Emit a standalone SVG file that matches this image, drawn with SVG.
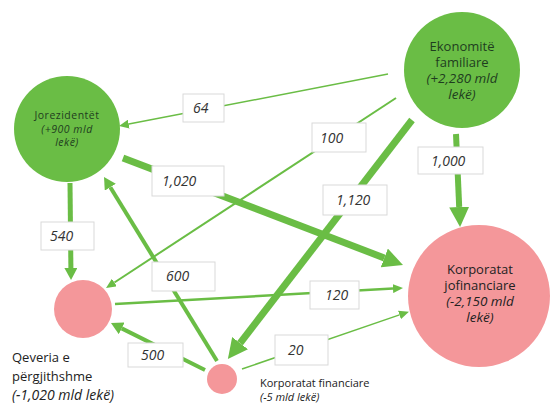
<svg xmlns="http://www.w3.org/2000/svg" width="551" height="406" viewBox="0 0 551 406">
<defs>
<style>
.ln{stroke:#6abd45;fill:none;stroke-linecap:butt}
.g{fill:#6abd45}
.p{fill:#f4979a}
.box{fill:#fff;stroke:#d9d9d9;stroke-width:1}
.lbl{font-family:"Open Sans",sans-serif;font-style:italic;font-size:14px;fill:#333}
.t{font-family:"Open Sans",sans-serif;font-size:13px;text-anchor:middle}
.tg{fill:#1f3d1f}
.tp{fill:#222}
.it{font-style:italic;font-size:13.5px}
.sm{font-size:10.5px;letter-spacing:0.5px}
.fs{font-size:11px;text-anchor:start}
.st{text-anchor:start}
</style>
<marker id="ms" markerUnits="userSpaceOnUse" markerWidth="10" markerHeight="9" refX="0" refY="4.5" orient="auto" viewBox="0 0 10 9"><path d="M0,0 L10,4.5 L0,9 z" fill="#6abd45"/></marker>
<marker id="mm" markerUnits="userSpaceOnUse" markerWidth="12" markerHeight="13" refX="0" refY="6.5" orient="auto" viewBox="0 0 12 13"><path d="M0,0 L12,6.5 L0,13 z" fill="#6abd45"/></marker>
<marker id="ml" markerUnits="userSpaceOnUse" markerWidth="20" markerHeight="20" refX="0" refY="10" orient="auto" viewBox="0 0 20 20"><path d="M0,0 L20,10 L0,20 z" fill="#6abd45"/></marker>
</defs>
<rect width="551" height="406" fill="#fff"/>
<g id="connectors">
<line class="ln" x1="388" y1="74" x2="128.8" y2="124.1" stroke-width="1.5" marker-end="url(#ms)"/>
<line class="ln" x1="396" y1="98" x2="114.4" y2="282.5" stroke-width="2" marker-end="url(#ms)"/>
<line class="ln" x1="412" y1="120" x2="240.1" y2="343.1" stroke-width="7" marker-end="url(#ml)"/>
<line class="ln" x1="456" y1="134" x2="459.2" y2="207" stroke-width="6" marker-end="url(#ml)"/>
<line class="ln" x1="123" y1="158" x2="384.3" y2="257.9" stroke-width="7" marker-end="url(#ml)"/>
<line class="ln" x1="70" y1="183" x2="70.9" y2="268" stroke-width="5" marker-end="url(#mm)"/>
<line class="ln" x1="217" y1="361" x2="110.3" y2="187.2" stroke-width="4" marker-end="url(#mm)"/>
<line class="ln" x1="205" y1="370" x2="121.7" y2="328.4" stroke-width="4" marker-end="url(#mm)"/>
<line class="ln" x1="115" y1="304" x2="393" y2="288.6" stroke-width="2.5" marker-end="url(#ms)"/>
<line class="ln" x1="242" y1="369" x2="399.5" y2="314.9" stroke-width="1.5" marker-end="url(#ms)"/>
<g id="labels">
<rect class="box" x="183" y="94" width="41" height="28"/><text class="lbl" x="193" y="113">64</text>
<rect class="box" x="152" y="166" width="72" height="30"/><text class="lbl" x="162" y="186">1,020</text>
<rect class="box" x="312" y="123" width="54" height="29"/><text class="lbl" x="320" y="143">100</text>
<rect class="box" x="418" y="147" width="65" height="27"/><text class="lbl" x="431" y="166">1,000</text>
<rect class="box" x="323" y="185" width="64" height="30"/><text class="lbl" x="336" y="205">1,120</text>
<rect class="box" x="41" y="222" width="53" height="28"/><text class="lbl" x="50" y="241">540</text>
<rect class="box" x="152" y="262" width="63" height="29"/><text class="lbl" x="166" y="281">600</text>
<rect class="box" x="128" y="343" width="55" height="24"/><text class="lbl" x="141" y="360">500</text>
<rect class="box" x="310" y="281" width="49" height="28"/><text class="lbl" x="325" y="300">120</text>
<rect class="box" x="275" y="335" width="53" height="30"/><text class="lbl" x="288" y="355">20</text>
</g>
</g>
<g id="jorezidentet">
<circle class="g" cx="67" cy="129" r="53"/>
<text class="t tg sm" x="67" y="119">Jorezidentët</text>
<text class="t tg sm" x="67" y="133" font-style="italic">(+900 mld</text>
<text class="t tg sm" x="67" y="146" font-style="italic">lekë)</text>
</g>
<g id="ekonomite">
<circle class="g" cx="462" cy="70" r="58"/>
<text class="t tg" x="462" y="51">Ekonomitë</text>
<text class="t tg" x="462" y="67">familiare</text>
<text class="t tg it" x="462" y="83">(+2,280 mld</text>
<text class="t tg it" x="462" y="99">lekë)</text>
</g>
<g id="jofinanciare">
<circle class="p" cx="479" cy="296" r="71"/>
<text class="t tp" x="480" y="274">Korporatat</text>
<text class="t tp" x="480" y="290">jofinanciare</text>
<text class="t tp it" x="480" y="306">(-2,150 mld</text>
<text class="t tp it" x="480" y="322">lekë)</text>
</g>
<g id="qeveria">
<circle class="p" cx="83" cy="309" r="29"/>
<text class="t tp st" x="12" y="362">Qeveria e</text>
<text class="t tp st" x="12" y="381">përgjithshme</text>
<text class="t tp it st" x="12" y="400" style="font-size:14px">(-1,020 mld lekë)</text>
</g>
<g id="financiare">
<circle class="p" cx="222" cy="379" r="15"/>
<text class="t tp fs" x="260" y="387">Korporatat financiare</text>
<text class="t tp fs" x="260" y="401" font-style="italic">(-5 mld lekë)</text>
</g>
</svg>
